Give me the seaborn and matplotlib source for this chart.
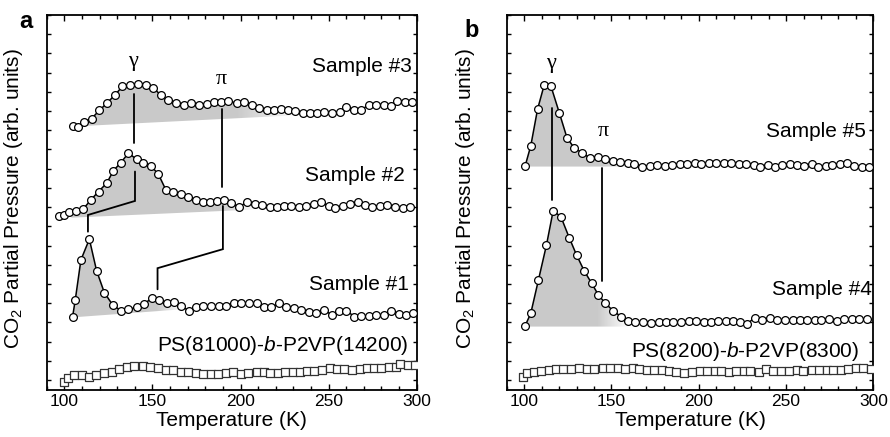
import matplotlib as mpl
mpl.use('Agg')
import matplotlib.pyplot as plt
import matplotlib.ticker as mticker
from matplotlib.patches import Polygon
import numpy as np
import seaborn as sns

# ---- panel a ----
t_s3 = [104.7, 107.6, 110.9, 115.5, 119.8, 124.2, 128.7, 133.0, 137.4, 141.9, 146.2, 150.6,
        154.7, 159.1, 163.6, 167.9, 172.1, 176.4, 180.8, 184.9, 188.7, 193.1, 197.8, 201.9,
        206.6, 210.4, 214.8, 218.9, 222.7, 226.8, 231.2, 235.5, 239.7, 243.5, 247.6, 251.9,
        256.3, 260.1, 264.2, 268.4, 272.7, 277.0, 281.2, 285.4, 289.1, 293.5, 297.2]
p_s3 = [13.23, 13.16, 13.44, 13.61, 14.03, 14.41, 14.84, 15.28, 15.35, 15.42, 15.35, 15.19,
        14.84, 14.55, 14.41, 14.34, 14.44, 14.34, 14.38, 14.46, 14.46, 14.53, 14.41, 14.48,
        14.34, 14.15, 14.03, 14.03, 14.10, 14.03, 13.99, 13.89, 13.89, 13.92, 13.96, 13.89,
        13.96, 14.20, 14.06, 14.06, 14.31, 14.34, 14.34, 14.24, 14.50, 14.46, 14.46]

t_s2 = [97.2, 99.6, 102.8, 106.6, 110.8, 115.1, 119.4, 124.0, 127.9, 132.1, 136.4, 141.0,
        144.9, 149.1, 153.4, 157.6, 161.9, 166.1, 170.2, 174.6, 178.7, 182.7, 186.8, 190.6,
        194.4, 199.1, 203.8, 208.2, 212.3, 216.6, 220.8, 224.6, 228.7, 233.1, 237.4, 241.6,
        245.9, 250.1, 253.8, 258.2, 262.3, 266.5, 270.8, 274.6, 278.9, 283.1, 287.8, 292.1, 296.3]
p_s2 = [8.54, 8.59, 8.72, 8.82, 8.91, 9.38, 9.81, 10.24, 10.90, 11.32, 11.81, 11.49,
        11.32, 11.15, 10.71, 9.90, 9.76, 9.67, 9.51, 9.38, 9.24, 9.24, 9.34, 9.38,
        9.20, 9.03, 9.24, 9.17, 9.11, 9.03, 9.03, 9.06, 9.06, 9.03, 9.06, 9.17,
        9.24, 9.06, 8.94, 9.06, 9.15, 9.24, 9.11, 9.03, 9.06, 9.11, 9.03, 8.94, 9.03]

t_s1 = [104.7, 106.2, 109.4, 114.2, 118.3, 122.7, 127.4, 132.1, 136.4, 141.1, 145.3, 149.5,
        153.8, 158.1, 162.3, 166.1, 170.8, 174.6, 178.9, 183.1, 187.8, 191.5, 196.3, 200.4,
        204.8, 209.1, 213.3, 217.4, 221.7, 225.9, 230.2, 234.4, 238.7, 243.1, 247.2, 251.9,
        255.7, 260.1, 264.6, 268.4, 272.7, 277.0, 281.2, 285.4, 289.7, 294.0, 297.8]
p_s1 = [3.30, 4.17, 6.25, 7.33, 5.69, 4.55, 3.91, 3.61, 3.68, 3.78, 3.96, 4.25,
        4.17, 4.03, 4.08, 3.85, 3.61, 3.78, 3.85, 3.85, 3.85, 3.85, 4.03, 4.03,
        3.99, 3.99, 3.82, 3.78, 3.99, 3.78, 3.73, 3.65, 3.56, 3.47, 3.65, 3.39,
        3.61, 3.61, 3.30, 3.33, 3.33, 3.39, 3.39, 3.61, 3.44, 3.39, 3.47]

t_ref_a = [99.6, 101.9, 105.7, 109.8, 114.2, 117.9, 122.7, 126.8, 131.1, 135.5, 139.6, 144.4,
           148.7, 152.9, 157.6, 161.9, 166.1, 170.2, 174.6, 178.9, 183.1, 187.2, 191.5, 195.9,
           200.0, 204.2, 209.1, 213.3, 217.0, 221.2, 225.5, 229.9, 234.0, 237.8, 241.9, 246.3,
           250.6, 254.8, 258.9, 263.3, 267.6, 271.8, 275.5, 279.7, 284.0, 288.4, 290.6, 294.8, 299.1]
p_ref_a = [-0.09, 0.09, 0.26, 0.26, 0.14, 0.26, 0.35, 0.43, 0.56, 0.69, 0.73, 0.73,
           0.66, 0.61, 0.52, 0.52, 0.43, 0.43, 0.38, 0.31, 0.31, 0.31, 0.35, 0.43,
           0.31, 0.35, 0.43, 0.43, 0.35, 0.38, 0.43, 0.43, 0.43, 0.47, 0.49, 0.52,
           0.61, 0.56, 0.56, 0.52, 0.57, 0.61, 0.61, 0.61, 0.66, 0.69, 0.83, 0.78, 0.78]

# ---- panel b ----
t_s5 = [100.6, 103.8, 107.7, 111.5, 115.3, 120.1, 124.5, 128.7, 133.1, 137.7, 142.1, 146.5,
        150.7, 154.9, 159.3, 163.1, 167.5, 171.8, 176.0, 180.4, 184.8, 189.0, 193.2, 197.6,
        201.4, 205.8, 210.0, 214.2, 218.6, 223.0, 226.9, 231.5, 235.3, 239.7, 243.5, 247.9,
        252.1, 256.0, 260.2, 264.6, 268.4, 272.8, 276.6, 280.8, 285.0, 288.9, 293.3, 297.7]
p_s5 = [11.15, 12.19, 14.10, 15.36, 15.31, 13.92, 12.62, 12.07, 11.84, 11.55, 11.60, 11.49,
        11.42, 11.37, 11.32, 11.25, 11.11, 11.15, 11.20, 11.15, 11.20, 11.25, 11.25, 11.28,
        11.25, 11.28, 11.32, 11.32, 11.28, 11.25, 11.25, 11.20, 11.11, 11.20, 11.11, 11.20,
        11.25, 11.20, 11.15, 11.25, 11.11, 11.15, 11.20, 11.25, 11.28, 11.15, 11.08, 11.08]

t_s4 = [100.6, 103.8, 108.2, 112.8, 116.6, 121.0, 125.8, 130.0, 134.4, 138.7, 142.5, 146.5,
        151.1, 155.5, 159.3, 163.7, 168.3, 172.7, 177.1, 181.3, 185.5, 189.9, 194.3, 198.5,
        202.8, 207.2, 211.0, 215.4, 219.6, 223.8, 227.6, 232.0, 236.4, 240.6, 244.9, 249.3,
        253.7, 257.9, 262.1, 266.5, 270.3, 274.7, 278.9, 283.1, 287.5, 291.9, 296.1]
p_s4 = [2.83, 3.47, 5.21, 7.03, 8.80, 8.51, 7.41, 6.51, 5.68, 5.03, 4.43, 3.99,
        3.59, 3.30, 3.07, 3.00, 3.04, 2.95, 3.00, 3.04, 3.00, 3.00, 3.07, 3.07,
        3.04, 3.04, 3.07, 3.07, 3.07, 3.04, 2.90, 3.25, 3.13, 3.21, 3.13, 3.13,
        3.13, 3.13, 3.13, 3.13, 3.13, 3.18, 3.07, 3.18, 3.18, 3.18, 3.18]

t_ref_b = [99.4, 101.9, 105.7, 109.6, 114.0, 118.2, 122.4, 126.8, 131.2, 135.8, 140.2, 145.0,
           149.2, 153.6, 158.0, 162.2, 166.0, 170.2, 174.6, 179.0, 183.2, 187.1, 191.8, 196.2,
           200.5, 204.7, 209.1, 212.9, 217.3, 221.5, 225.7, 229.5, 234.5, 238.7, 242.6, 247.3,
           251.7, 256.0, 259.8, 264.6, 269.0, 273.2, 277.0, 281.2, 285.6, 290.0, 294.2, 298.4]
p_ref_b = [0.17, 0.35, 0.43, 0.47, 0.52, 0.57, 0.57, 0.57, 0.64, 0.57, 0.57, 0.61,
           0.61, 0.61, 0.57, 0.61, 0.57, 0.52, 0.52, 0.52, 0.47, 0.40, 0.35, 0.43,
           0.47, 0.47, 0.47, 0.47, 0.40, 0.47, 0.47, 0.47, 0.43, 0.57, 0.47, 0.47,
           0.47, 0.52, 0.47, 0.52, 0.52, 0.52, 0.52, 0.52, 0.57, 0.64, 0.61, 0.57]

sns.set_theme(style='ticks')
plt.rcParams['font.family'] = ['Liberation Sans', 'DejaVu Sans']
plt.rcParams['mathtext.fontset'] = 'custom'
plt.rcParams['mathtext.rm'] = 'Liberation Sans'
plt.rcParams['mathtext.it'] = 'Liberation Sans:italic'
plt.rcParams['text.color'] = 'black'
plt.rcParams['axes.labelcolor'] = 'black'
plt.rcParams['xtick.color'] = 'black'
plt.rcParams['ytick.color'] = 'black'

GRAY = 0.79


def shade(ax, t, p, x0, y0, x1, y1, fade0):
    # grey area between curve and a straight baseline, fading out to the right
    t = np.asarray(t)
    p = np.asarray(p)
    inside = (t > x0) & (t < x1)
    xs = np.concatenate([[x0], t[inside], [x1]])
    yc = np.interp(xs, t, p)
    yb = y0 + (y1 - y0) * (xs - x0) / (x1 - x0)
    top = np.maximum(yc, yb)
    verts = np.column_stack([np.r_[xs, xs[::-1]], np.r_[top, yb[::-1]]])
    patch = Polygon(verts, closed=True, facecolor='none', edgecolor='none')
    ax.add_patch(patch)
    gx = np.linspace(x0, x1, 400)
    img = np.ones((1, 400, 4)) * GRAY
    img[0, :, 3] = np.clip((x1 - gx) / (x1 - fade0), 0, 1)
    im = ax.imshow(img, extent=[x0, x1, yb.min() - 0.2, top.max() + 0.2],
                   aspect='auto', interpolation='bilinear', zorder=1)
    im.set_clip_path(patch)


def curve(ax, t, p):
    sns.lineplot(x=t, y=p, ax=ax, sort=False, color='black', linewidth=1.1,
                 marker='o', markersize=5.6, markerfacecolor='white',
                 markeredgecolor='black', markeredgewidth=0.9, zorder=3)


def ref(ax, t, p):
    sns.scatterplot(x=t, y=p, ax=ax, marker='s', s=28, facecolor='white',
                    edgecolor='#333333', linewidth=0.9, zorder=3)


def bracket(ax, xs, ys):
    ax.plot(xs, ys, color='black', linewidth=1.3, zorder=2, solid_joinstyle='miter')


fig = plt.figure(figsize=(8.9, 4.37), dpi=100)
ax_a = fig.add_axes([0.0525, 0.1076, 0.4157, 0.8581])
ax_b = fig.add_axes([0.5693, 0.1076, 0.4120, 0.8581])

# panel a
shade(ax_a, t_s3, p_s3, 110.0, 13.22, 236.0, 13.80, 198.0)
shade(ax_a, t_s2, p_s2, 104.0, 8.45, 210.0, 8.88, 188.0)
shade(ax_a, t_s1, p_s1, 104.7, 3.26, 167.0, 3.68, 152.0)
curve(ax_a, t_s3, p_s3)
curve(ax_a, t_s2, p_s2)
curve(ax_a, t_s1, p_s1)
ref(ax_a, t_ref_a, p_ref_a)

bracket(ax_a, [139.3, 139.3], [14.9, 12.33])
bracket(ax_a, [189.3, 189.3], [14.1, 10.07])
bracket(ax_a, [140.1, 140.1, 113.4, 113.4], [10.85, 9.32, 8.59, 7.72])
bracket(ax_a, [190.0, 190.0, 152.9, 152.9], [9.06, 6.81, 5.82, 4.72])

serif = ['Liberation Serif', 'DejaVu Serif']
ax_a.text(138.7, 16.58, 'γ', ha='center', va='center', fontsize=16, family=serif)
ax_a.text(189.3, 15.63, 'π', ha='center', va='center', fontsize=16, family=serif)
ax_a.text(297.5, 16.3, 'Sample #3', ha='right', va='center', fontsize=15)
ax_a.text(293.5, 10.64, 'Sample #2', ha='right', va='center', fontsize=15)
ax_a.text(295.5, 4.95, 'Sample #1', ha='right', va='center', fontsize=15)
ax_a.text(295.0, 1.82, 'PS(81000)-$b$-P2VP(14200)', ha='right', va='center', fontsize=15)

# panel b
shade(ax_b, t_s5, p_s5, 100.6, 11.11, 165.0, 11.11, 145.0)
shade(ax_b, t_s4, p_s4, 100.6, 2.78, 160.0, 2.78, 142.0)
curve(ax_b, t_s5, p_s5)
curve(ax_b, t_s4, p_s4)
ref(ax_b, t_ref_b, p_ref_b)

bracket(ax_b, [115.7, 115.7], [14.15, 9.375])
bracket(ax_b, [144.4, 144.4], [11.03, 5.16])

ax_b.text(115.3, 16.5, 'γ', ha='center', va='center', fontsize=16, family=serif)
ax_b.text(145.5, 12.93, 'π', ha='center', va='center', fontsize=16, family=serif)
ax_b.text(296.0, 12.93, 'Sample #5', ha='right', va='center', fontsize=15)
ax_b.text(299.3, 4.72, 'Sample #4', ha='right', va='center', fontsize=15)
ax_b.text(292.0, 1.47, 'PS(8200)-$b$-P2VP(8300)', ha='right', va='center', fontsize=15)

for ax in (ax_a, ax_b):
    ax.set_xlim(90, 300)
    ax.set_ylim(-0.52, 19.0)
    ax.xaxis.set_major_locator(mticker.MultipleLocator(50))
    ax.xaxis.set_minor_locator(mticker.MultipleLocator(10))
    ax.yaxis.set_major_locator(mticker.MultipleLocator(1))
    ax.set_yticklabels([])
    ax.tick_params(which='both', direction='in', top=True, right=True,
                   width=1.0, colors='black')
    ax.tick_params(which='major', length=4, labelsize=12.5, pad=3)
    ax.tick_params(which='minor', length=3)
    ax.tick_params(axis='y', which='major', length=3)
    for s in ax.spines.values():
        s.set_linewidth(1.3)
        s.set_color('black')
    ax.set_xlabel('Temperature (K)', fontsize=15, labelpad=1)
    ax.set_ylabel('CO$_\\mathrm{2}$ Partial Pressure (arb. units)', fontsize=15)
    ax.set_facecolor('white')

ax_a.yaxis.set_label_coords(-0.059, 0.51)
ax_b.yaxis.set_label_coords(-0.082, 0.51)

fig.text(0.022, 0.935, 'a', fontsize=17, fontweight='bold', va='baseline')
fig.text(0.522, 0.916, 'b', fontsize=17, fontweight='bold', va='baseline')

fig.savefig('out.png', dpi=100, facecolor='white')
